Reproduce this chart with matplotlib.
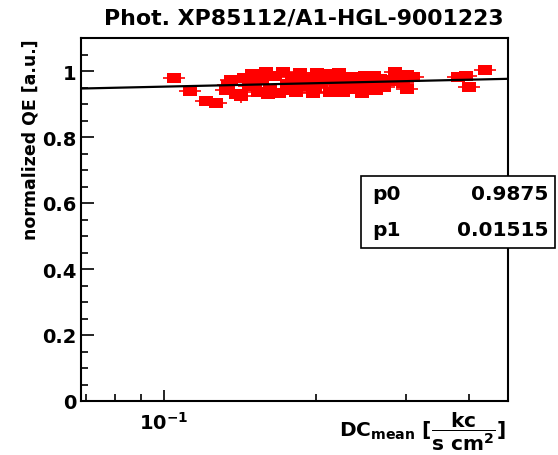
import numpy as np
import matplotlib
matplotlib.use("Agg")
import matplotlib.pyplot as plt
from matplotlib.ticker import FixedLocator, FixedFormatter, MultipleLocator, NullFormatter
from matplotlib.patches import Rectangle

plt.rcParams['font.family'] = ['DejaVu Sans']
plt.rcParams['font.weight'] = 'bold'
plt.rcParams['mathtext.fontset'] = 'dejavusans'

# ================================
# DATA
# ================================
title = "Phot. XP85112/A1-HGL-9001223"
dc_mean = [0.1045, 0.1124, 0.1210, 0.1265,
           0.1324, 0.1336, 0.1355, 0.1386, 0.1418, 0.1437, 0.1470, 0.1490,
           0.1511, 0.1531, 0.1560, 0.1589, 0.1603, 0.1618, 0.1655, 0.1686,
           0.1717, 0.1748, 0.1772, 0.1788, 0.1821, 0.1837, 0.1854, 0.1888,
           0.1932, 0.1967, 0.1985, 0.2003, 0.2040, 0.2068, 0.2087, 0.2126,
           0.2165, 0.2185, 0.2215, 0.2256, 0.2276, 0.2307, 0.2350, 0.2382,
           0.2404, 0.2459, 0.2493, 0.2527, 0.2550, 0.2597, 0.2621, 0.2669,
           0.2718, 0.2767, 0.2857, 0.2897, 0.2963, 0.3018, 0.3018, 0.3101,
           0.3806, 0.3947, 0.4002, 0.4303]
qe_norm = [0.979, 0.939, 0.909, 0.903,
           0.942, 0.958, 0.973, 0.930, 0.924, 0.979, 0.955, 0.991,
           0.967, 0.936, 0.973, 0.997, 0.930, 0.945, 0.985, 0.933,
           0.997, 0.961, 0.942, 0.982, 0.936, 0.973, 0.994, 0.955,
           0.976, 0.933, 0.948, 0.994, 0.964, 0.976, 0.991, 0.936,
           0.973, 0.955, 0.994, 0.936, 0.979, 0.961, 0.982, 0.970,
           0.945, 0.933, 0.985, 0.955, 0.967, 0.985, 0.942, 0.976,
           0.952, 0.973, 0.997, 0.970, 0.964, 0.988, 0.945, 0.982,
           0.982, 0.985, 0.952, 1.003]
qe_err = [0.005] * len(qe_norm)
qe_err[8] = 0.02
dc_rel_err = 0.05

p0 = 0.9875
p1 = 0.01515

# ================================
# FIGURE
# ================================
fig = plt.figure(figsize=(5.58, 4.56), dpi=100)
ax = fig.add_axes([81/558, 1 - 402/456, 427/558, 363/456])

# slightly wide square marker, like the stretched ROOT markers
box_marker = [(-0.625, -0.5), (0.625, -0.5), (0.625, 0.5), (-0.625, 0.5), (-0.625, -0.5)]

x = np.array(dc_mean)
y = np.array(qe_norm)
ax.errorbar(x, y, xerr=dc_rel_err*x, yerr=qe_err, fmt='none', ecolor='red',
            elinewidth=1.2, capsize=0, zorder=2)
ax.plot(x, y, linestyle='none', marker=box_marker, ms=9.5, color='red', mew=0, zorder=2)

xf = np.logspace(np.log10(0.0685), np.log10(0.478), 300)
ax.plot(xf, p0 + p1*np.log(xf), color='black', lw=1.6, zorder=3)

ax.set_xscale('log')
ax.set_xlim(0.0685, 0.478)
ax.set_ylim(0, 1.1)

ax.xaxis.set_major_locator(FixedLocator([0.1]))
ax.xaxis.set_major_formatter(FixedFormatter([r'$\mathbf{10^{-1}}$']))
ax.xaxis.set_minor_locator(FixedLocator([0.07, 0.08, 0.09, 0.2, 0.3, 0.4]))
ax.xaxis.set_minor_formatter(NullFormatter())

ax.yaxis.set_major_locator(FixedLocator([0, 0.2, 0.4, 0.6, 0.8, 1.0]))
ax.yaxis.set_major_formatter(FixedFormatter(['0', '0.2', '0.4', '0.6', '0.8', '1']))
ax.yaxis.set_minor_locator(MultipleLocator(0.05))

ax.tick_params(which='both', direction='in', top=False, right=False, width=1.2)
ax.tick_params(axis='y', which='major', length=9.5, pad=3, labelsize=14)
ax.tick_params(axis='y', which='minor', length=4.7)
ax.tick_params(axis='x', which='major', length=8, pad=7, labelsize=14)
ax.tick_params(axis='x', which='minor', length=5)
for s in ax.spines.values():
    s.set_linewidth(1.5)

fig.text(304/558, 1 - 18/456, title, ha='center', va='center', fontsize=15.8,
         fontweight='bold')
fig.text(31/558, 1 - 39/456, "normalized QE [a.u.]", rotation=90, ha='center',
         va='top', fontsize=12.5, fontweight='bold')
fig.text(506/558, 1 - 432/456,
         r'$\mathbf{DC_{mean}}\ \mathbf{[}\dfrac{\mathbf{kc}}{\mathbf{s\ cm^{2}}}\mathbf{]}$',
         ha='right', va='center', fontsize=14.5)

# stats box
box = Rectangle((361/558, 1 - 249/456), 194/558, 72/456, transform=fig.transFigure,
                facecolor='white', edgecolor='black', lw=1.2, zorder=5)
fig.patches.append(box)
fig.text(372/558, 1 - 195/456, "p0", ha='left', va='center', fontsize=14.5, zorder=6)
fig.text(548/558, 1 - 195/456, f"{p0}", ha='right', va='center', fontsize=14.5, zorder=6)
fig.text(372/558, 1 - 231/456, "p1", ha='left', va='center', fontsize=14.5, zorder=6)
fig.text(548/558, 1 - 231/456, f"{p1}", ha='right', va='center', fontsize=14.5, zorder=6)

fig.savefig("out.png", dpi=100)
